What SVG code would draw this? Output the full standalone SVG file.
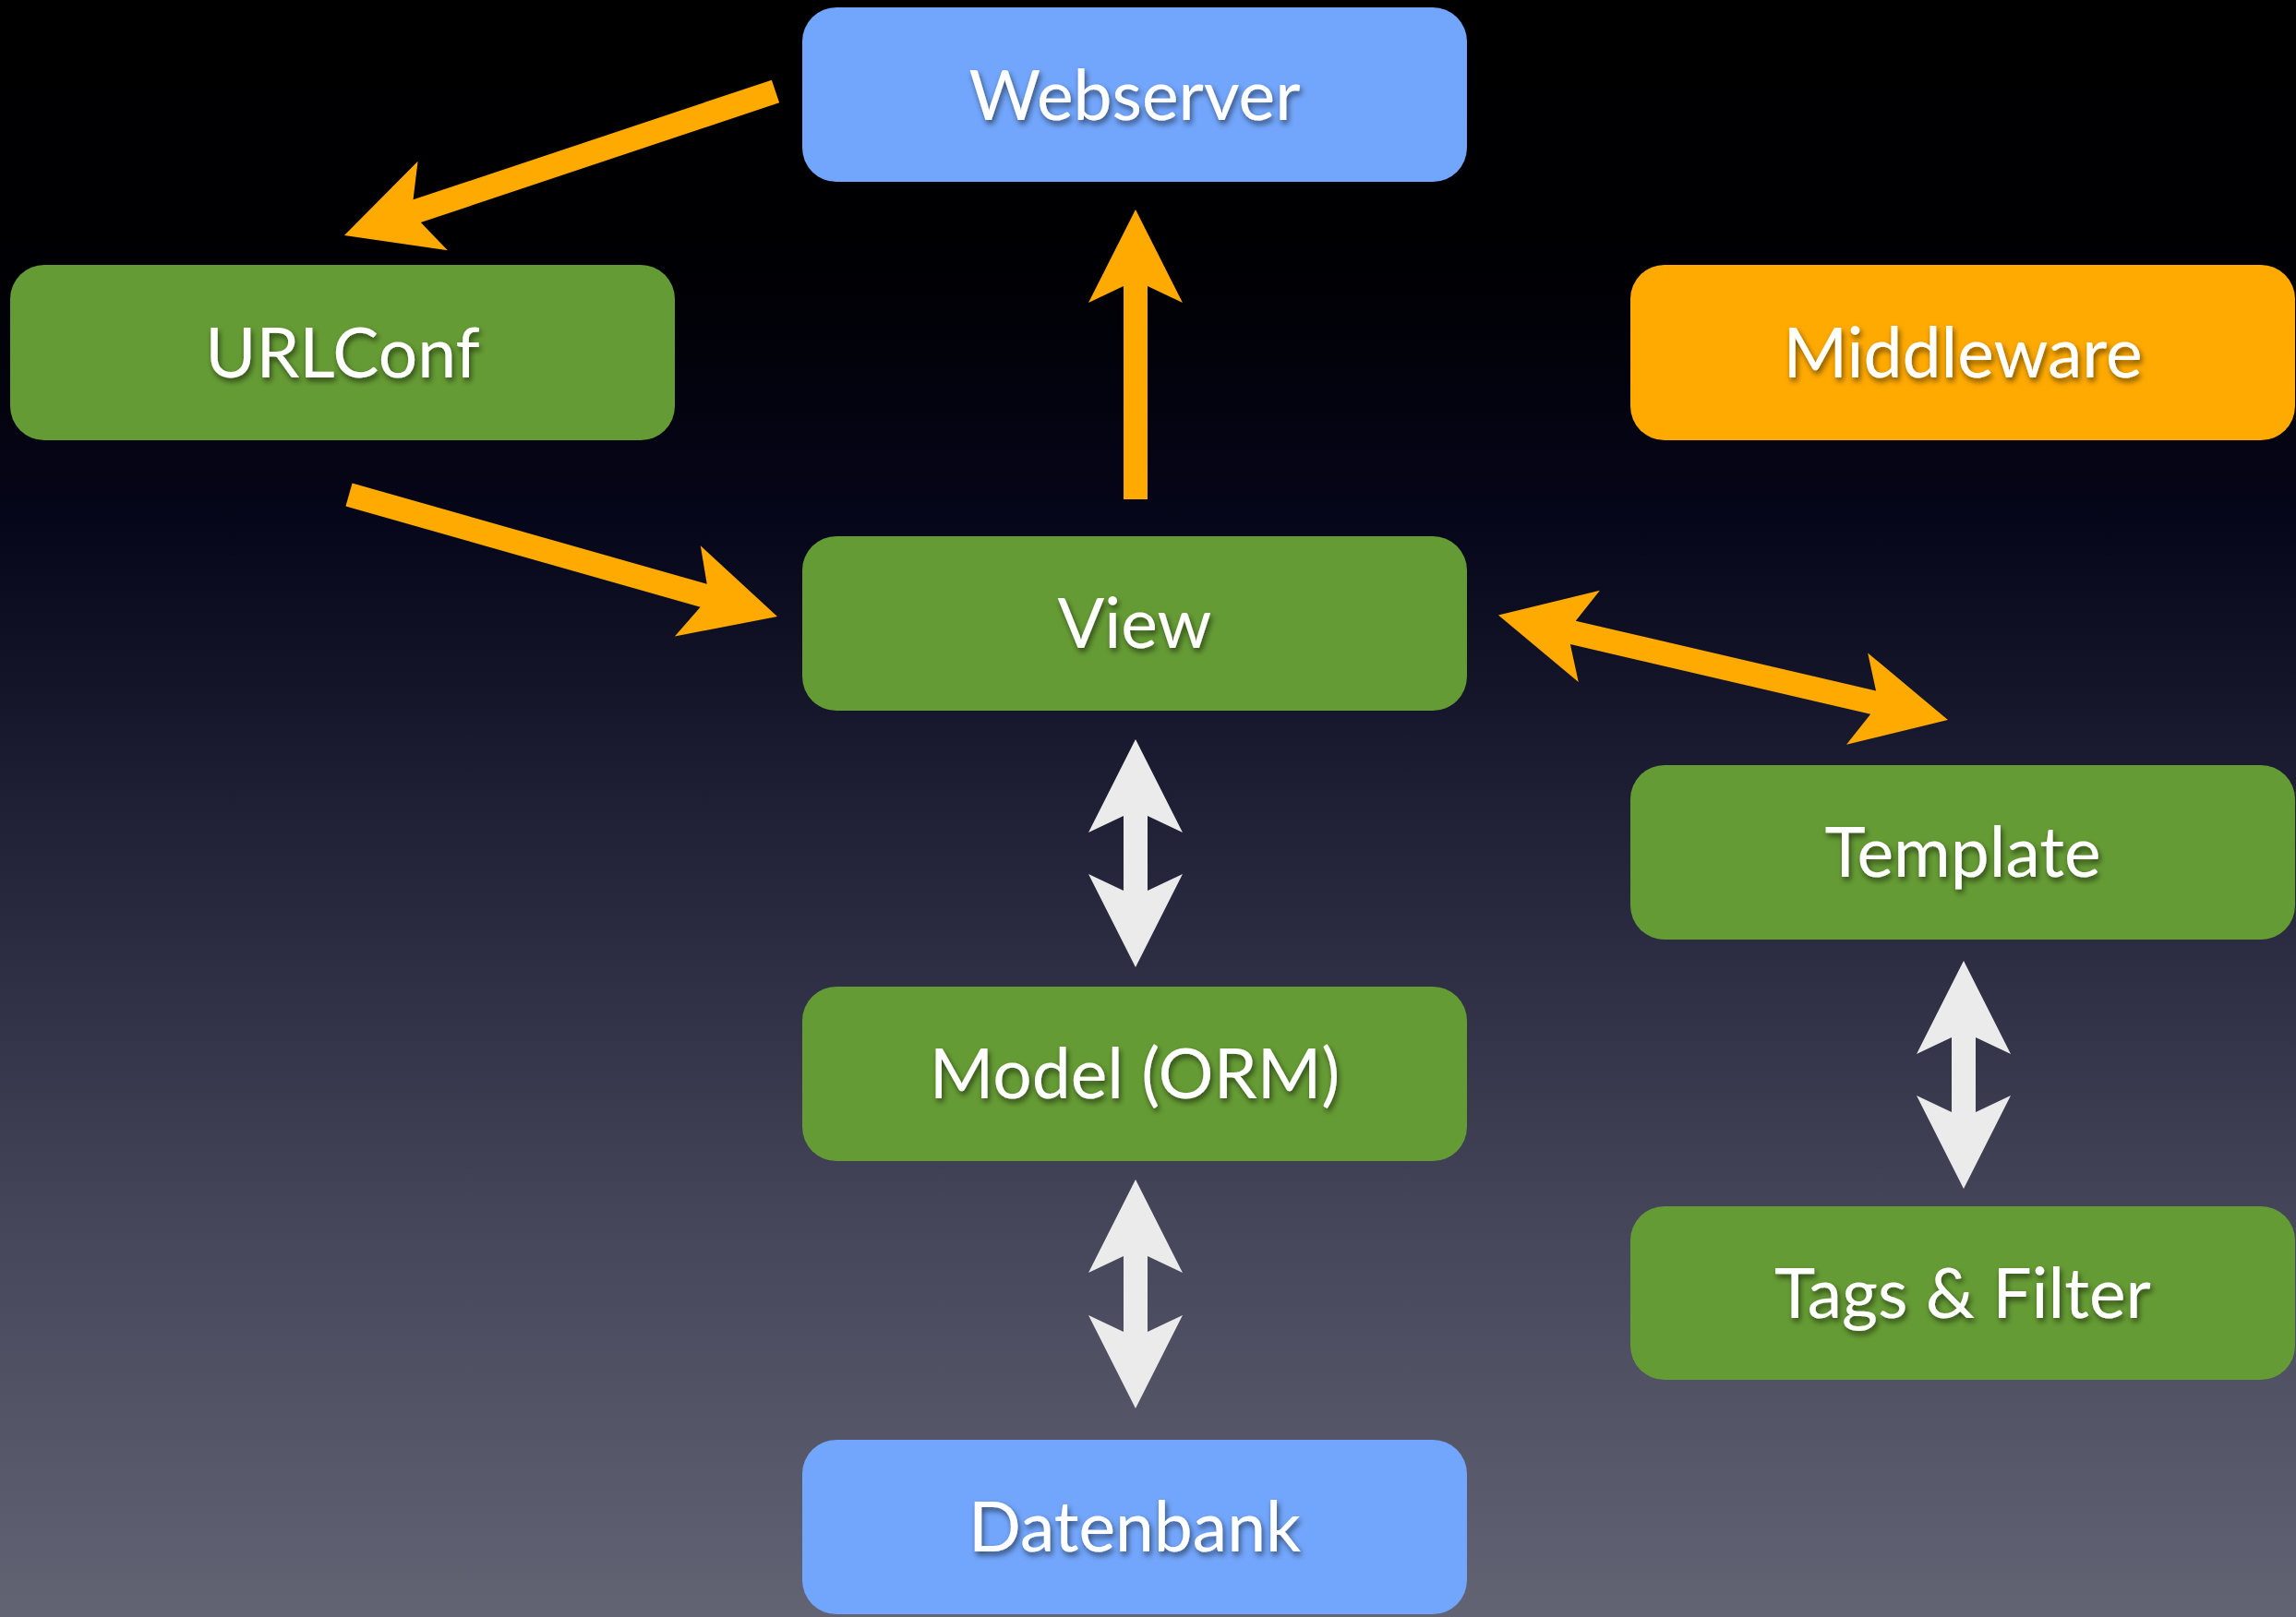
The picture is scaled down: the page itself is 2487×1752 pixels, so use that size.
<svg xmlns="http://www.w3.org/2000/svg" width="2487" height="1752" viewBox="0 0 2487 1752">
<defs>
<linearGradient id="bg" x1="0" y1="0" x2="0" y2="1">
<stop offset="0" stop-color="#000000"/>
<stop offset="0.17" stop-color="#000004"/>
<stop offset="0.32" stop-color="#06061a"/>
<stop offset="0.5" stop-color="#1f1f35"/>
<stop offset="0.75" stop-color="#444559"/>
<stop offset="1" stop-color="#626373"/>
</linearGradient>
<filter id="ts" x="-10%" y="-30%" width="120%" height="160%">
<feDropShadow dx="2" dy="4" stdDeviation="3" flood-color="#000" flood-opacity="0.55"/>
</filter>
</defs>
<style>
.box{stroke:none}
.blue{fill:#72a6fc}
.green{fill:#659b34}
.orange{fill:#ffaa00}
.lbl{font-family:Lato,"Open Sans","Liberation Sans",sans-serif;font-size:75px;fill:#ffffff;text-anchor:middle;filter:url(#ts)}
.oa{fill:#ffaa00}
.wa{fill:#ebebeb}
</style>
<rect x="0" y="0" width="2487" height="1752" fill="url(#bg)"/>
<g id="connectors">
<polygon class="oa" transform="translate(840,99) rotate(161.53)" points="0,-13 409.4,-13 391.4,-51 492.4,0 391.4,51 409.4,13 0,13"/>
<polygon class="oa" transform="translate(378,536) rotate(15.88)" points="0,-13 399.4,-13 381.4,-51 482.4,0 381.4,51 399.4,13 0,13"/>
<polygon class="oa" transform="translate(1230,541) rotate(-90)" points="0,-13 231,-13 213,-51 314,0 213,51 231,13 0,13"/>
<polygon class="oa" transform="translate(1623,666.5) rotate(13.12)" points="0,0 101,-51 83,-13 417,-13 399,-51 500,0 399,51 417,13 83,13 101,51"/>
<polygon class="wa" transform="translate(1230,801) rotate(90)" points="0,0 101,-51 83,-13 164,-13 146,-51 247,0 146,51 164,13 83,13 101,51"/>
<polygon class="wa" transform="translate(1230,1278) rotate(90)" points="0,0 101,-51 83,-13 165,-13 147,-51 248,0 147,51 165,13 83,13 101,51"/>
<polygon class="wa" transform="translate(2127,1041) rotate(90)" points="0,0 101,-51 83,-13 164,-13 146,-51 247,0 146,51 164,13 83,13 101,51"/>
</g>
<g id="webserver"><rect class="box blue" x="869" y="8" width="720" height="189" rx="37"/><text class="lbl" x="1229" y="130">Webserver</text></g>
<g id="urlconf"><rect class="box green" x="11" y="287" width="720" height="190" rx="37"/><text class="lbl" x="371" y="409">URLConf</text></g>
<g id="middleware"><rect class="box orange" x="1766" y="287" width="720" height="190" rx="37"/><text class="lbl" x="2126" y="409">Middleware</text></g>
<g id="view"><rect class="box green" x="869" y="581" width="720" height="189" rx="37"/><text class="lbl" x="1229" y="702">View</text></g>
<g id="template"><rect class="box green" x="1766" y="829" width="720" height="189" rx="37"/><text class="lbl" x="2126" y="950">Template</text></g>
<g id="model"><rect class="box green" x="869" y="1069" width="720" height="189" rx="37"/><text class="lbl" x="1229" y="1190">Model (ORM)</text></g>
<g id="tags"><rect class="box green" x="1766" y="1307" width="720" height="188" rx="37"/><text class="lbl" x="2126" y="1428">Tags &amp; Filter</text></g>
<g id="datenbank"><rect class="box blue" x="869" y="1560" width="720" height="189" rx="37"/><text class="lbl" x="1229" y="1681">Datenbank</text></g>
</svg>
